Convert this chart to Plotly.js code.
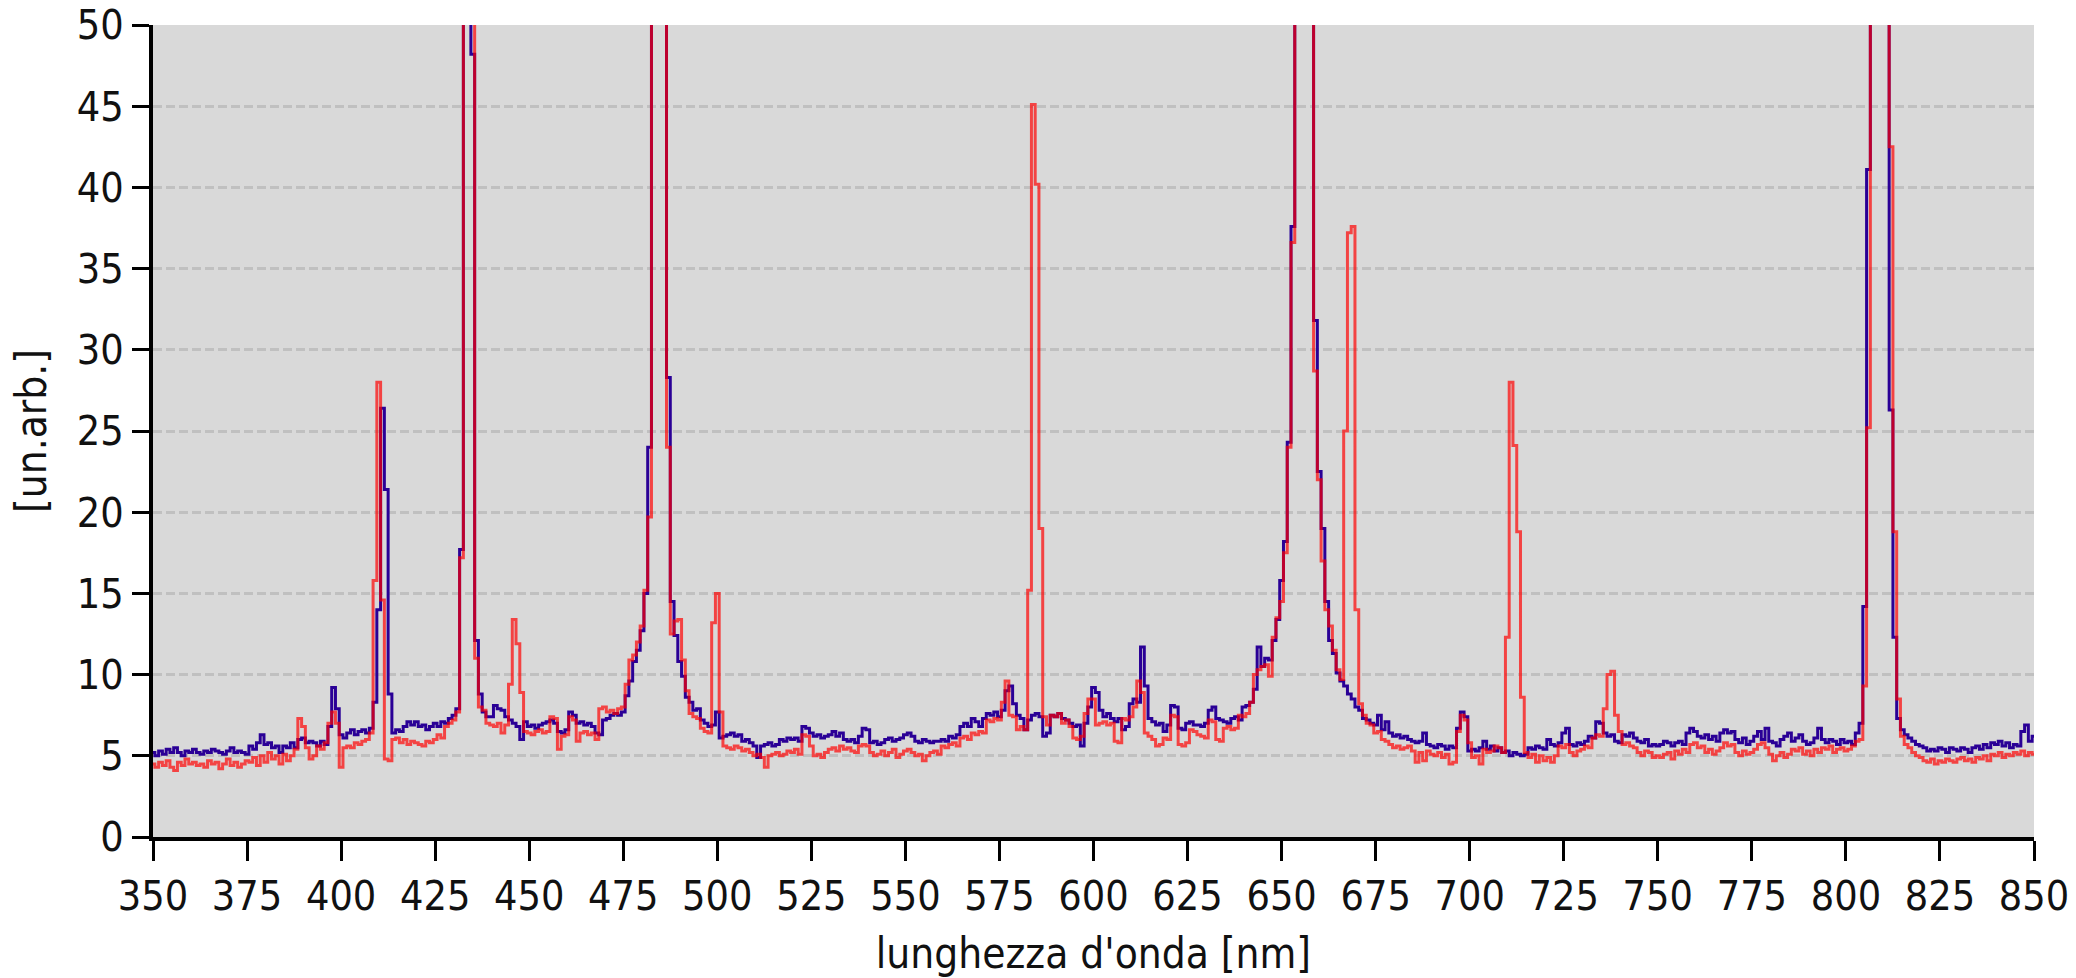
<!DOCTYPE html>
<html>
<head>
<meta charset="utf-8">
<script src="https://cdn.plot.ly/plotly-3.0.1.min.js"></script>
<style>
html,body{margin:0;padding:0;background:#ffffff;}
#chart{width:2076px;height:978px;}
</style>
</head>
<body>
<div id="chart"></div>
<script>
// wavelength grid (nm)
const wavelengthStart = 350;
const wavelengthStep = 1;

// blue series (values per nm, 350..850)
const blueSpectrum = [
5.2,5.0,5.3,5.1,5.4,5.2,5.5,5.2,5.0,5.3,
5.2,5.4,5.2,5.1,5.3,5.2,5.4,5.3,5.2,5.1,
5.3,5.5,5.2,5.3,5.2,5.1,5.6,5.4,5.8,6.3,
5.7,5.8,5.5,5.6,5.2,5.6,5.5,5.8,5.5,6.0,
6.1,5.8,5.9,5.8,5.6,5.9,5.7,6.8,9.2,7.9,
6.3,6.1,6.4,6.6,6.3,6.5,6.6,6.4,6.7,8.3,
14.0,26.4,21.4,8.8,6.4,6.6,6.5,6.8,7.1,6.9,
7.1,6.8,6.9,6.6,6.8,7.0,6.8,7.1,7.0,7.3,
7.5,7.9,17.7,90,110,48.2,12.1,8.8,7.7,7.4,
7.4,8.1,7.9,7.8,7.4,7.2,7.0,6.8,6.0,7.1,
6.8,6.9,6.7,6.9,7.0,7.1,7.2,7.0,6.5,6.4,
6.6,7.7,7.5,7.0,7.1,6.9,7.0,6.8,6.4,6.3,
7.2,7.3,7.5,7.6,7.5,7.7,8.7,9.6,10.8,11.5,
12.7,15.0,24.0,90,100,95,60,28.3,14.5,12.4,
10.8,9.9,8.6,8.3,7.8,7.9,7.2,7.0,6.8,6.9,
7.7,6.1,6.2,6.3,6.4,6.2,6.3,5.9,6.0,5.8,
5.6,4.9,5.6,5.7,5.8,5.6,5.7,6.0,5.9,6.1,
6.0,6.1,5.9,6.8,6.7,6.4,6.2,6.3,6.1,6.2,
6.3,6.5,6.2,6.4,6.0,5.9,6.0,5.8,6.2,6.7,
6.6,5.8,5.9,5.7,5.8,6.0,6.1,5.9,6.0,6.1,
6.3,6.4,6.2,5.9,5.8,6.0,5.9,5.8,5.9,5.9,
6.0,5.9,6.2,6.1,6.3,6.8,7.0,6.8,7.3,7.1,
6.8,7.3,7.6,7.5,7.7,7.4,7.8,9.0,9.3,8.2,
7.5,7.3,6.6,7.2,7.5,7.6,7.4,6.2,6.4,7.5,
7.4,7.6,7.3,7.2,7.0,6.8,6.9,5.6,7.0,8.0,
9.2,8.9,7.8,7.4,7.6,7.3,7.1,7.3,6.6,6.8,
8.2,8.5,8.3,11.7,9.3,7.3,7.1,6.9,7.0,6.5,
6.9,8.1,8.0,6.7,6.6,7.0,7.1,6.9,6.9,6.8,
7.0,7.8,8.0,7.3,7.2,7.1,7.0,7.3,7.4,7.2,
8.0,8.1,8.3,9.1,11.7,10.5,11.0,10.9,12.1,13.4,
15.8,18.2,24.3,37.6,90,130,150,130,90,31.8,
22.5,19.0,14.5,12.1,11.3,10.1,9.6,9.3,8.8,8.5,
8.0,7.8,7.3,7.2,7.0,6.9,7.5,6.6,7.1,6.4,
6.2,6.3,6.1,6.2,6.0,5.9,5.8,5.9,6.4,5.7,
5.6,5.5,5.7,5.6,5.4,5.6,5.5,6.7,7.7,7.4,
5.3,5.4,5.3,5.5,5.9,5.4,5.6,5.3,5.5,5.2,
5.3,5.0,5.2,5.1,5.0,5.1,5.5,5.4,5.6,5.5,
5.4,6.0,5.7,5.6,5.8,6.4,6.7,5.7,5.6,5.8,
5.7,5.9,6.2,6.1,7.1,7.0,6.4,6.2,6.3,5.9,
5.8,6.3,6.2,6.4,6.1,5.9,5.8,6.0,5.6,5.7,
5.6,5.7,5.9,5.8,5.6,5.8,5.9,5.7,6.4,6.7,
6.5,6.2,6.1,6.3,6.0,6.2,5.9,6.4,6.6,6.4,
6.5,6.0,5.8,6.1,5.7,5.9,6.2,6.5,6.0,6.7,
5.9,5.8,5.6,6.0,6.2,6.4,5.9,6.1,6.3,5.9,
5.7,5.8,6.1,6.7,6.0,5.8,6.0,5.9,5.7,6.0,
5.8,5.9,5.7,6.4,7.0,14.2,41.1,90,120,120,
90,60,26.3,12.3,7.3,6.6,6.3,6.1,5.9,5.7,
5.6,5.5,5.3,5.4,5.3,5.5,5.4,5.2,5.5,5.4,
5.3,5.5,5.4,5.2,5.5,5.6,5.4,5.7,5.5,5.8,
5.7,5.9,5.6,5.8,5.5,5.7,5.6,6.5,6.9,5.9,
6.2
];

// red series (values per nm, 350..850)
const redSpectrum = [
4.5,4.3,4.6,4.4,4.7,4.3,4.1,4.6,4.4,4.8,
4.5,4.6,4.4,4.5,4.3,4.7,4.5,4.6,4.2,4.5,
4.8,4.4,4.6,4.3,4.5,4.7,4.6,4.9,4.4,5.0,
4.6,5.2,4.8,5.0,4.5,5.1,4.7,5.0,5.4,7.3,
6.8,5.5,4.8,5.0,5.6,5.4,5.8,7.0,7.7,7.0,
4.3,5.5,5.6,5.5,5.8,5.7,5.9,6.0,6.4,15.8,
28.0,14.6,4.8,4.7,6.0,6.1,5.8,6.0,5.7,5.9,
5.8,5.7,5.6,5.9,5.8,6.0,6.3,6.1,6.8,7.0,
7.2,7.7,17.2,90,110,60,11.0,8.0,7.8,7.0,
6.9,6.8,7.0,6.4,6.9,9.4,13.4,11.9,8.9,6.5,
6.4,6.3,6.5,6.6,6.4,6.5,7.4,7.3,5.4,6.2,
6.3,7.4,7.2,5.9,6.4,6.5,6.3,6.4,6.0,7.9,
8.0,7.7,7.8,7.6,7.9,8.0,9.4,10.9,11.2,12.0,
13.0,15.2,19.7,90,100,95,60,24.0,12.5,13.3,
13.4,10.9,9.0,7.6,7.4,7.3,6.7,6.5,6.4,13.2,
15.0,7.7,5.6,5.5,5.4,5.6,5.5,5.3,5.4,5.2,
5.0,5.1,4.9,4.3,5.0,5.1,5.2,5.0,5.1,5.3,
5.2,5.4,5.1,6.3,6.2,5.6,5.0,5.1,4.9,5.2,
5.4,5.5,5.3,5.6,5.4,5.5,5.3,5.2,5.6,5.7,
5.6,5.2,5.0,5.1,5.3,5.0,5.2,5.4,4.9,5.1,
5.3,5.4,5.2,5.0,5.1,4.7,5.0,5.2,5.3,5.1,
5.6,5.5,5.7,5.8,5.6,6.1,6.2,6.0,6.4,6.3,
6.5,6.4,7.2,7.1,7.3,7.2,8.3,9.6,7.5,7.4,
6.6,6.8,6.6,15.2,45.1,40.2,19.0,7.4,6.9,7.5,
7.4,7.6,7.0,7.2,6.8,6.1,6.0,6.2,7.6,8.5,
8.5,6.9,7.0,7.1,6.9,7.0,5.9,5.8,7.3,7.2,
7.4,8.0,9.6,8.9,6.4,6.2,6.0,5.6,5.7,6.1,
6.0,7.5,7.4,5.7,5.6,5.8,6.6,6.5,6.3,6.2,
6.1,7.2,7.1,6.0,5.9,6.7,6.8,6.6,6.7,7.5,
7.4,7.6,8.3,10.0,10.3,10.5,10.6,9.9,12.3,13.5,
14.5,17.5,24.0,36.6,90,130,150,130,90,28.7,
22.0,17.0,14.0,13.0,11.5,10.3,9.7,25.0,37.2,37.6,
14.0,8.2,7.5,7.0,6.9,6.4,6.5,6.0,5.9,5.7,
5.5,5.6,5.4,5.5,5.6,5.3,4.6,5.2,4.7,5.3,
5.1,5.0,5.2,4.9,5.1,4.5,4.6,6.5,7.5,7.2,
5.8,4.9,5.0,4.5,5.4,5.2,5.3,5.6,5.5,5.2,
12.3,28.0,24.1,18.8,8.6,5.2,4.9,5.1,4.6,5.0,
4.7,4.9,4.6,5.0,5.6,5.5,5.7,5.2,5.0,5.3,
5.4,5.6,5.5,6.1,6.3,6.2,7.9,10.0,10.2,7.5,
6.5,5.7,5.8,5.6,5.5,5.2,5.0,5.3,5.2,4.9,
5.0,4.9,5.1,5.2,4.8,5.3,5.1,5.4,5.2,5.7,
5.8,5.5,5.6,5.2,5.4,5.1,5.3,5.5,5.8,5.6,
5.7,5.2,5.0,5.3,5.1,5.2,5.4,5.7,5.8,5.5,
5.1,4.7,5.0,5.2,4.9,5.1,5.4,5.3,5.5,5.1,
5.3,5.0,5.4,5.2,5.5,5.4,5.6,5.2,5.4,5.5,
5.3,5.4,5.6,5.9,6.0,9.3,25.2,90,120,120,
90,60,42.5,18.8,8.5,6.2,5.7,5.5,5.2,5.0,
4.9,4.7,4.6,4.8,4.5,4.7,4.6,4.8,4.7,4.6,
4.8,4.9,4.7,4.8,4.6,4.9,4.8,5.0,4.7,5.1,
5.0,5.2,4.9,5.1,5.0,5.2,5.1,5.3,5.0,5.2,
5.1
];

const xTitle = "lunghezza d'onda [nm]";
const yTitle = "[un.arb.]";

const wavelengths = blueSpectrum.map((_, i) => wavelengthStart + i * wavelengthStep);

const FONT = "'DejaVu Sans Condensed', 'DejaVu Sans', sans-serif";

const traces = [
  {
    x: wavelengths, y: blueSpectrum, type: 'scatter', mode: 'lines',
    line: {color: '#2a0096', width: 3, shape: 'hvh'},
    hoverinfo: 'x+y'
  },
  {
    x: wavelengths, y: redSpectrum, type: 'scatter', mode: 'lines',
    line: {color: 'rgba(255,0,0,0.69)', width: 3, shape: 'hvh'},
    hoverinfo: 'x+y'
  }
];

const layout = {
  width: 2076, height: 978,
  margin: {l: 153, r: 42, t: 25, b: 141, pad: 0},
  paper_bgcolor: '#ffffff',
  plot_bgcolor: '#d9d9d9',
  showlegend: false,
  font: {family: FONT, size: 42, color: '#000000'},
  xaxis: {
    range: [350, 850], tick0: 350, dtick: 25,
    ticks: 'outside', ticklen: 20, tickwidth: 3, tickcolor: '#000000',
    showline: true, linewidth: 4, linecolor: '#000000',
    showgrid: false, zeroline: false, automargin: false,
    tickfont: {family: FONT, size: 41, color: '#111111'},
    title: {text: xTitle, font: {family: FONT, size: 42, color: '#111111'}, standoff: 22}
  },
  yaxis: {
    range: [0, 50], tick0: 0, dtick: 5,
    ticks: 'outside', ticklen: 17, tickwidth: 3, tickcolor: '#000000',
    showline: true, linewidth: 4, linecolor: '#000000',
    showgrid: true, gridcolor: '#c0c0c0', gridwidth: 3, griddash: '9px,4px',
    zeroline: false, automargin: false,
    tickfont: {family: FONT, size: 41, color: '#111111'},
    title: {text: yTitle, font: {family: FONT, size: 42, color: '#111111'}, standoff: 18}
  }
};

Plotly.newPlot('chart', traces, layout, {staticPlot: true, displayModeBar: false});
</script>
</body>
</html>
